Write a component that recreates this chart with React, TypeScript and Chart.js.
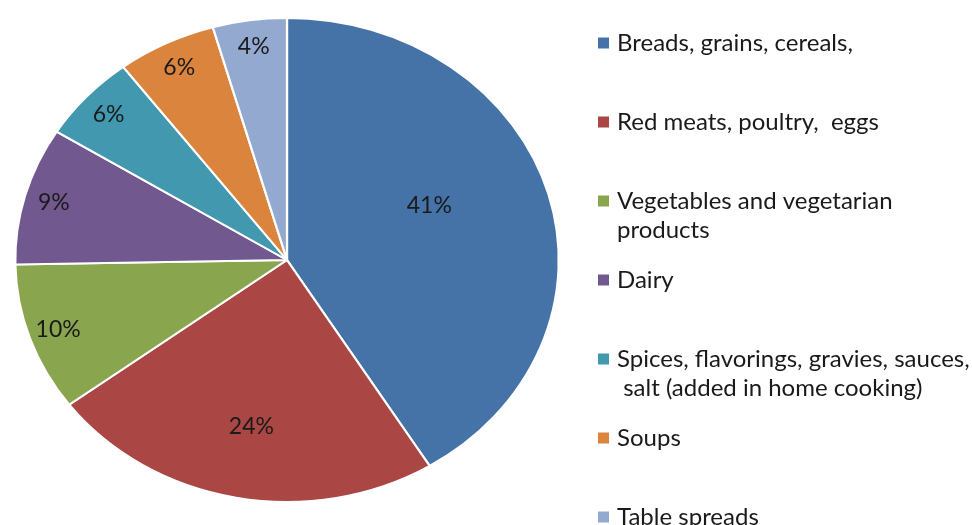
import React, { useEffect, useRef } from "react";
import { Chart, registerables } from "chart.js";

Chart.register(...registerables);

const categories: string[] = [
  "Breads, grains, cereals,",
  "Red meats, poultry,  eggs",
  "Vegetables and vegetarian\nproducts",
  "Dairy",
  "Spices, flavorings, gravies, sauces,\n salt (added in home cooking)",
  "Soups",
  "Table spreads",
];

const shares: number[] = [41.2, 23.6, 9.9, 9.2, 5.8, 5.9, 4.4];

const sliceColors: string[] = [
  "#4572A7",
  "#AA4643",
  "#89A54E",
  "#71588F",
  "#4198AF",
  "#DB843D",
  "#93A9CF",
];

const STRETCH_X = 1.123;
const TEXT_COLOR = "#1a1a1a";
const FONT_FAMILY = "Lato, 'Open Sans', sans-serif";

const ellipsePiePlugin = {
  id: "ellipsePie",
  beforeDatasetsDraw(chart: any) {
    const arc = chart.getDatasetMeta(0).data[0];
    if (!arc) return;
    const ctx = chart.ctx;
    ctx.save();
    ctx.translate(arc.x, arc.y);
    ctx.scale(STRETCH_X, 1);
    ctx.translate(-arc.x, -arc.y);
  },
  afterDatasetsDraw(chart: any) {
    const ctx = chart.ctx;
    ctx.restore();
    const meta = chart.getDatasetMeta(0);
    ctx.save();
    ctx.font = `23px ${FONT_FAMILY}`;
    ctx.fillStyle = TEXT_COLOR;
    ctx.textAlign = "center";
    ctx.textBaseline = "middle";
    meta.data.forEach((arc: any, i: number) => {
      const p = arc.getProps(["x", "y", "startAngle", "endAngle", "outerRadius"], true);
      const v = shares[i];
      const big = v > 30;
      const mid = p.startAngle + (p.endAngle - p.startAngle) * (big ? 0.45 : 0.5);
      const f = big ? 0.57 : v > 15 ? 0.7 : 0.89;
      const r = p.outerRadius * f;
      const lx = p.x + Math.cos(mid) * r * STRETCH_X;
      const ly = p.y + Math.sin(mid) * r;
      ctx.fillText(`${Math.round(v)}%`, lx, ly);
    });
    ctx.restore();
  },
  afterDraw(chart: any) {
    const ctx = chart.ctx;
    ctx.save();
    const boxX = 598;
    const boxSize = 11;
    const textX = 617;
    const firstY = 43;
    const step = 79;
    const lineH = 29;
    ctx.font = `24px ${FONT_FAMILY}`;
    ctx.textAlign = "left";
    ctx.textBaseline = "middle";
    categories.forEach((label, i) => {
      const y = firstY + i * step;
      ctx.fillStyle = sliceColors[i];
      ctx.fillRect(boxX, y - boxSize / 2, boxSize, boxSize);
      ctx.fillStyle = TEXT_COLOR;
      label.split("\n").forEach((line, j) => {
        ctx.fillText(line, textX, y + j * lineH);
      });
    });
    ctx.restore();
  },
};

export default function App() {
  const canvasRef = useRef<HTMLCanvasElement | null>(null);

  useEffect(() => {
    const canvas = canvasRef.current;
    if (!canvas) return;
    const chart = new Chart(canvas, {
      type: "pie",
      data: {
        labels: categories,
        datasets: [
          {
            data: shares,
            backgroundColor: sliceColors,
            borderColor: "#ffffff",
            borderWidth: 2,
            clip: false as any,
          },
        ],
      },
      options: {
        responsive: false,
        animation: false,
        devicePixelRatio: 1,
        layout: { padding: { left: 44, right: 442, top: 17, bottom: 22 } },
        plugins: {
          legend: { display: false },
          tooltip: { enabled: false },
        },
        events: [],
      },
      plugins: [ellipsePiePlugin],
    });
    return () => chart.destroy();
  }, []);

  return (
    <div
      style={{
        position: "absolute",
        left: 0,
        top: 0,
        width: 972,
        height: 525,
        background: "#ffffff",
        overflow: "hidden",
      }}
    >
      <canvas ref={canvasRef} width={972} height={525} style={{ width: 972, height: 525 }} />
    </div>
  );
}
